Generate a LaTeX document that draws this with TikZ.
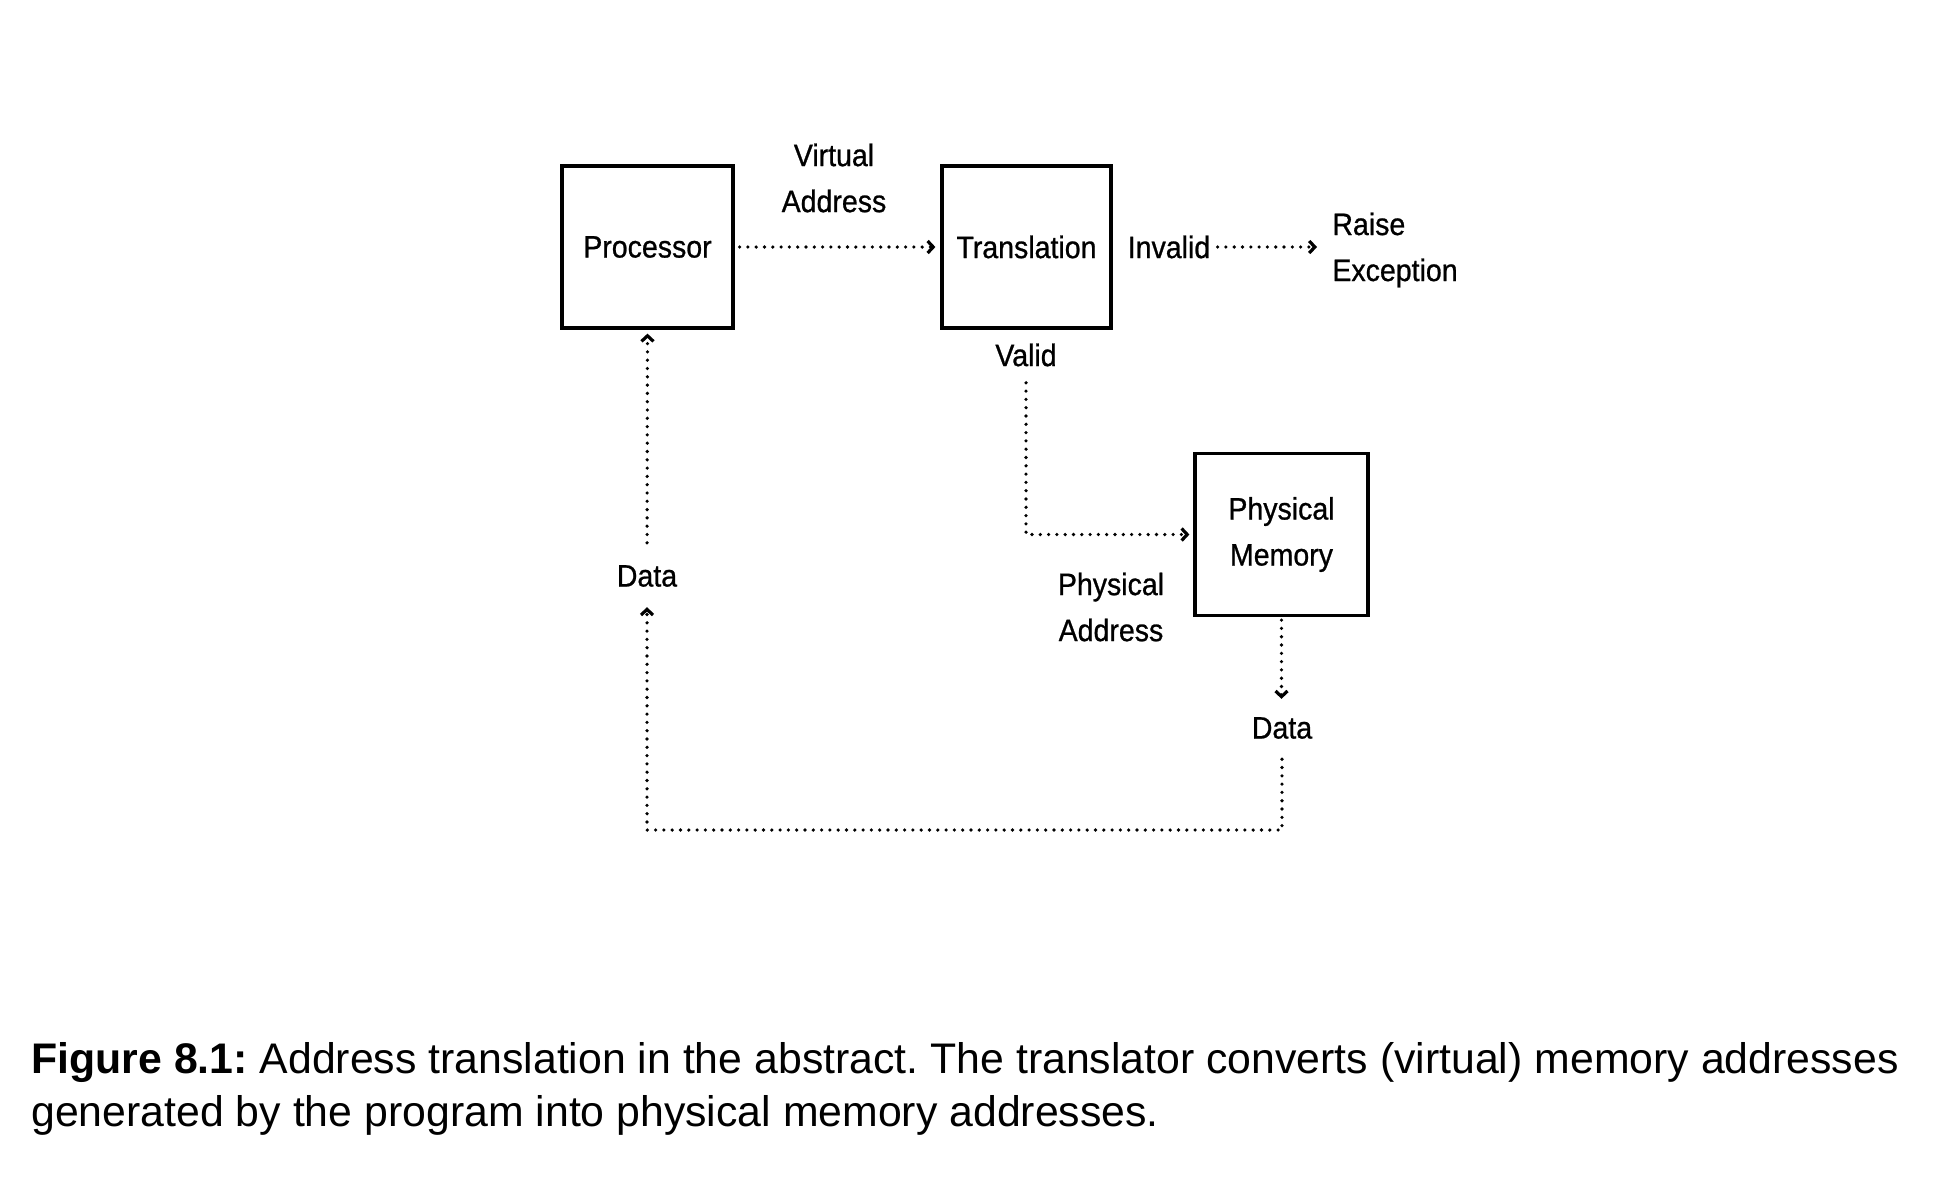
\documentclass[tikz,border=0pt]{standalone}
\usepackage{fontspec}
\setmainfont{Liberation Sans}
\newfontfamily\diagfont[FakeStretch=0.92, FakeBold=0.8]{Liberation Sans}
\usetikzlibrary{arrows.meta}

\begin{document}
\begin{tikzpicture}[x=0.5pt,y=-0.5pt,
	box/.style={draw, line width=1.6pt, minimum width=85.5pt, minimum height=81pt, inner sep=2pt, align=center, font=\diagfont\fontsize{15.5}{23}\selectfont},
	lbl/.style={inner sep=2pt, align=center, font=\diagfont\fontsize{15.5}{23}\selectfont},
	flow/.style={line width=1.8pt, line cap=round, dash pattern=on 0pt off 4.15pt, -{Straight Barb[length=2.8pt,width=6pt,line width=1.6pt]}}]
	\useasboundingbox (0,0) rectangle (1934,1196);

	% Cajas
	\node [box] (proc) at (647.5,247) {Processor};
	\node [box, minimum width=84.5pt] (trans) at (1026.5,247) {Translation};
	\node [box, minimum width=86.5pt] (mem) at (1281.5,534.5) {Physical\\Memory};

	% Etiquetas
	\node [lbl] (virt) at (834,178) {Virtual\\Address};
	\node [lbl] (inv) at (1169,247) {Invalid};
	\node [lbl, anchor=west, align=left] (raise) at (1328,250) {Raise\\Exception};
	\node [lbl] (valid) at (1026,355) {Valid};
	\node [lbl] (paddr) at (1111,607) {Physical\\Address};
	\node [lbl] (mdata) at (1282,728) {Data};
	\node [lbl] (pdata) at (647,576) {Data};
	\coordinate (ret) at (960,830);

	% Flechas
	\draw [flow, shorten <=2.5pt, shorten >=2.5pt] (proc.east) -- (trans.west);
	\draw [flow, shorten <=1.5pt, shorten >=5.5pt] (inv.east) -- (raise.west |- inv.east);
	\draw [flow, shorten <=6pt, shorten >=2pt] (valid.south) |- (mem.west);
	\draw [flow, shorten <=1.5pt, shorten >=7pt] (mem.south) -- (mem.south |- mdata.north);
	\draw [flow, shorten <=8pt, shorten >=8pt] (mdata.south) |- (ret) -| (pdata.south);
	\draw [flow, shorten <=9pt, shorten >=2pt] (pdata.north) -- (proc.south);

	% Pie
	\node [anchor=west, align=left, inner sep=0pt, font=\fontsize{21.4}{26.5}\selectfont\frenchspacing] (cap) at (31,1089) {\textbf{Figure 8.1:} Address translation in the abstract. The translator converts (virtual) memory addresses\\generated by the program into physical memory addresses.};
\end{tikzpicture}
\end{document}
